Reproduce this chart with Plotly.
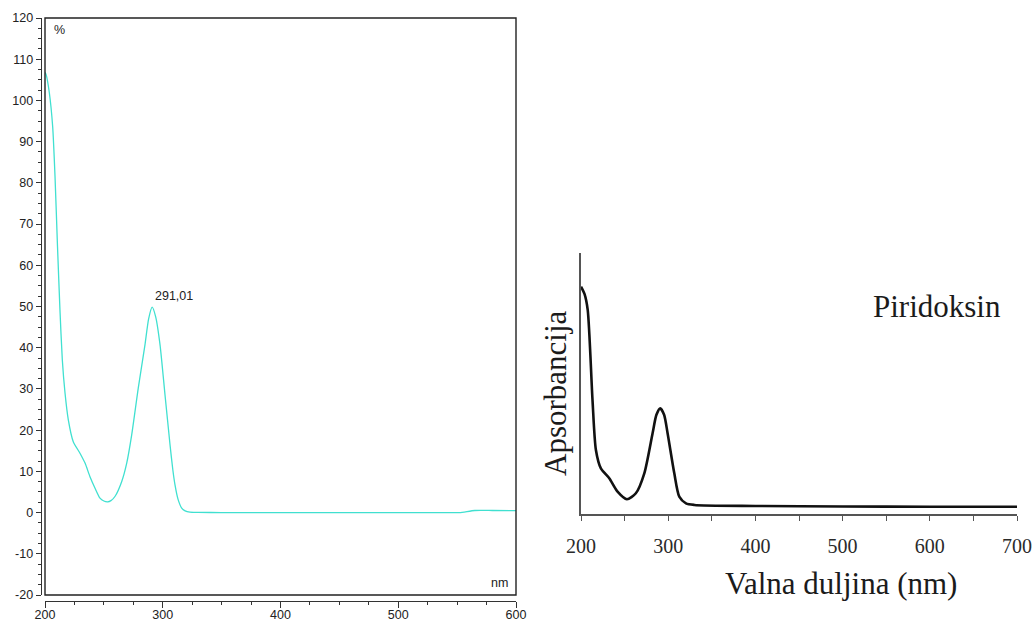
import plotly.graph_objects as go

# UV spectrum recorded by the instrument (transmission-style %, 200-600 nm)
inst_nm = [200, 201, 203.7, 206.5, 208.5, 210.5, 212.7, 214.7, 217, 219.8, 224,
           229.7, 234, 238.2, 242.5, 246.7, 250, 253.2, 256, 259.4, 265.1, 269.4,
           273.6, 279.2, 284.9, 288, 291.01, 294, 297.7, 301.9, 306.2, 308.5, 310.4,
           313, 316.1, 319, 323.1, 330, 350, 400, 450, 500, 540, 552, 565, 580, 600]
inst_pct = [106.8, 106.2, 101.8, 93.7, 81.6, 65.5, 49.2, 37.1, 29.0, 22.5, 17.2,
            14.4, 12.0, 8.7, 5.9, 3.5, 2.8, 2.6, 2.9, 3.9, 7.5, 12.0,
            18.8, 30.2, 40.7, 47.0, 49.85, 47.5, 40.7, 28.6, 16.4, 10.5, 6.7,
            3.2, 1.1, 0.4, 0.1, 0.05, 0.0, 0.0, 0.0, 0.0, 0.0, 0.0, 0.5, 0.5, 0.45]
peak_nm = 291.01
peak_pct = 49.85
peak_label = "291,01"

# tick labels of the percent axis (plain hyphen for negatives)
pct_ticks = [-20, -10, 0, 10, 20, 30, 40, 50, 60, 70, 80, 90, 100, 110, 120]
pct_tick_text = ["-20", "-10", "0", "10", "20", "30", "40", "50", "60", "70",
                 "80", "90", "100", "110", "120"]

# Literature spectrum of pyridoxine (relative absorbance, 200-700 nm)
ref_nm = [200, 204, 207.7, 213.2, 217.1, 222.8, 232.4, 241.9, 252.6, 262.9, 272.6,
          282.1, 286.5, 290.9, 295.3, 299.3, 307, 312.7, 320.4, 330, 400, 500, 600, 700]
ref_abs = [0.878, 0.85, 0.788, 0.44, 0.247, 0.176, 0.138, 0.086, 0.057, 0.080, 0.157,
           0.312, 0.383, 0.408, 0.383, 0.312, 0.157, 0.067, 0.041, 0.035, 0.031, 0.029,
           0.028, 0.028]

W, H = 1036, 621
def px_x(p):
    return p / W
def px_y(p):
    return (H - p) / H

fig = go.Figure()

fig.add_trace(go.Scatter(
    x=inst_nm, y=inst_pct, mode="lines",
    line=dict(color="#40E0D0", width=1.3, shape="spline", smoothing=0.6),
    xaxis="x", yaxis="y", showlegend=False, hoverinfo="x+y"))

fig.add_trace(go.Scatter(
    x=ref_nm, y=ref_abs, mode="lines",
    line=dict(color="#111111", width=2.6, shape="spline", smoothing=0.7),
    xaxis="x2", yaxis="y2", showlegend=False, hoverinfo="x+y"))

axis_grey = "#333333"
sans = "Liberation Sans, Arial, sans-serif"
serif = "Liberation Serif, Times New Roman, serif"

fig.update_layout(
    width=W, height=H,
    margin=dict(l=0, r=0, t=0, b=0, autoexpand=False),
    paper_bgcolor="white", plot_bgcolor="white",
    xaxis=dict(
        domain=[px_x(45), px_x(516)], range=[200, 600],
        anchor="free", position=px_y(601), automargin=False,
        showline=True, linecolor=axis_grey, linewidth=1.2,
        ticks="outside", ticklen=6, tickwidth=1.2, tickcolor=axis_grey,
        tick0=200, dtick=100,
        minor=dict(ticks="outside", ticklen=3, tickwidth=1, tickcolor=axis_grey, dtick=25),
        ticklabelstandoff=-4,
        showgrid=False, zeroline=False,
        tickfont=dict(family=sans, size=12.5, color="#222222"),
    ),
    yaxis=dict(
        domain=[px_y(595), px_y(18)], range=[-20, 120],
        anchor="free", position=px_x(40.7), automargin=False,
        showline=True, linecolor=axis_grey, linewidth=1.2,
        ticks="outside", ticklen=5, tickwidth=1.2, tickcolor=axis_grey,
        tickmode="array", tickvals=pct_ticks, ticktext=pct_tick_text,
        minor=dict(ticks="outside", ticklen=3, tickwidth=1, tickcolor=axis_grey,
                   tickmode="linear", tick0=0, dtick=2.5),
        showgrid=False, zeroline=False,
        tickfont=dict(family=sans, size=12.5, color="#222222"),
    ),
    xaxis2=dict(
        domain=[px_x(581), px_x(1017)], range=[200, 700],
        anchor="y2", automargin=False,
        showline=True, linecolor="#555555", linewidth=1.6,
        ticks="outside", ticklen=5, tickwidth=1.4, tickcolor="#555555",
        tick0=200, dtick=100,
        minor=dict(ticks="outside", ticklen=5, tickwidth=1.4, tickcolor="#555555", dtick=50),
        ticklabelstandoff=8,
        showgrid=False, zeroline=False,
        tickfont=dict(family=serif, size=20, color="#2a2a2a"),
    ),
    yaxis2=dict(
        domain=[px_y(514), px_y(253)], range=[0, 1.008],
        anchor="x2", automargin=False,
        showline=True, linecolor="#555555", linewidth=1.6,
        ticks="", showticklabels=False,
        showgrid=False, zeroline=False,
    ),
    shapes=[
        dict(type="rect", xref="x domain", yref="y domain", x0=0, x1=1, y0=0, y1=1,
             line=dict(color="#222222", width=1.4), fillcolor="rgba(0,0,0,0)", layer="above"),
    ],
    annotations=[
        dict(x=peak_nm, y=peak_pct, xref="x", yref="y", text=peak_label, showarrow=False,
             xanchor="left", yanchor="bottom", xshift=1, yshift=2,
             font=dict(family=sans, size=12.5, color="#222222")),
        dict(x=px_x(52), y=px_y(30), xref="paper", yref="paper", text="%", showarrow=False,
             xanchor="left", yanchor="middle", font=dict(family=sans, size=12.5, color="#222222")),
        dict(x=px_x(510), y=px_y(583), xref="paper", yref="paper", text="nm", showarrow=False,
             xanchor="right", yanchor="middle", font=dict(family=sans, size=12.5, color="#222222")),
        dict(x=px_x(556), y=px_y(393), xref="paper", yref="paper", text="Apsorbancija",
             showarrow=False, textangle=-90, xanchor="center", yanchor="middle",
             font=dict(family=serif, size=31, color="#1b1b1b")),
        dict(x=px_x(841), y=px_y(583), xref="paper", yref="paper", text="Valna duljina (nm)",
             showarrow=False, xanchor="center", yanchor="middle",
             font=dict(family=serif, size=31, color="#1b1b1b")),
        dict(x=px_x(937), y=px_y(306), xref="paper", yref="paper", text="Piridoksin",
             showarrow=False, xanchor="center", yanchor="middle",
             font=dict(family=serif, size=31, color="#1b1b1b")),
    ],
)

fig.write_html("out.html")
